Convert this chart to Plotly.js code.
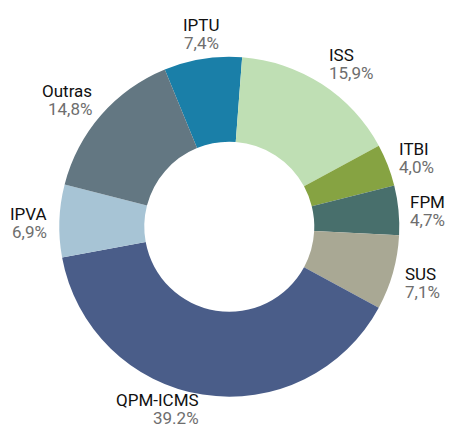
<!DOCTYPE html>
<html>
<head>
<meta charset="utf-8">
<script src="https://cdn.plot.ly/plotly-3.0.1.min.js"></script>
<style>html,body{margin:0;padding:0;background:#fff;}#chart{width:454px;height:430px;}</style>
</head>
<body>
<div id="chart"></div>
<script>
// ---- data ----
const labels = ['IPTU', 'ISS', 'ITBI', 'FPM', 'SUS', 'QPM-ICMS', 'IPVA', 'Outras'];
const values = [7.4, 15.9, 4.0, 4.7, 7.1, 39.2, 6.9, 14.8];
const pctLabels = ['7,4%', '15,9%', '4,0%', '4,7%', '7,1%', '39.2%', '6,9%', '14,8%'];
const colors = ['#1a7fa8', '#bfdfb4', '#86a342', '#486f6c', '#a9a894', '#4a5d89', '#a7c4d5', '#637782'];

// ---- layout constants ----
const W = 454, H = 430;
const dom = { x: [0.1306, 0.8795], y: [0.0774, 0.8681] };
const rotation = -22.3;
const FONT = 'Roboto, Liberation Sans, sans-serif';
const FS = 17;

const trace = {
  type: 'pie',
  labels: labels,
  values: values,
  sort: false,
  direction: 'clockwise',
  rotation: rotation,
  hole: 0.5,
  textinfo: 'none',
  hoverinfo: 'label+percent',
  marker: { colors: colors, line: { width: 0 } },
  domain: dom
};

// label annotations placed around the ring, derived from the data
const cx = (dom.x[0] + dom.x[1]) / 2 * W;
const cy = (1 - (dom.y[0] + dom.y[1]) / 2) * H;
const R = Math.min((dom.x[1] - dom.x[0]) * W, (dom.y[1] - dom.y[0]) * H) / 2;
const total = values.reduce((a, b) => a + b, 0);
const annotations = [];
let cum = 0;
const gap = 10, pitch = 18, blockH = 36;
values.forEach((v, i) => {
  const mid = (rotation + 360 * (cum + v / 2) / total) * Math.PI / 180;
  cum += v;
  const s = Math.sin(mid), c = Math.cos(mid);
  const rl = R + gap;
  const px = cx + rl * s;
  const py = cy - rl * c;
  let bc = py + 3 - (blockH / 2) * c;
  bc = Math.max(blockH / 2, Math.min(H - blockH / 2 - 3, bc));
  const xa = c > 0.9 ? 'center' : (s > 0 ? 'left' : 'right');
  const common = {
    xref: 'paper', yref: 'paper', x: px / W, xanchor: xa, yanchor: 'middle',
    align: xa, showarrow: false
  };
  annotations.push(Object.assign({}, common, {
    y: 1 - (bc - pitch / 2) / H, text: labels[i],
    font: { family: FONT, size: FS, color: '#111111' }
  }));
  annotations.push(Object.assign({}, common, {
    y: 1 - (bc + pitch / 2) / H, text: pctLabels[i],
    font: { family: FONT, size: FS, color: '#6e6e6e' }
  }));
});

const layout = {
  width: W, height: H,
  margin: { l: 0, r: 0, t: 0, b: 0 },
  paper_bgcolor: '#ffffff',
  plot_bgcolor: '#ffffff',
  showlegend: false,
  annotations: annotations,
  font: { family: FONT }
};

Plotly.newPlot('chart', [trace], layout, { displayModeBar: false, staticPlot: true });
</script>
</body>
</html>
